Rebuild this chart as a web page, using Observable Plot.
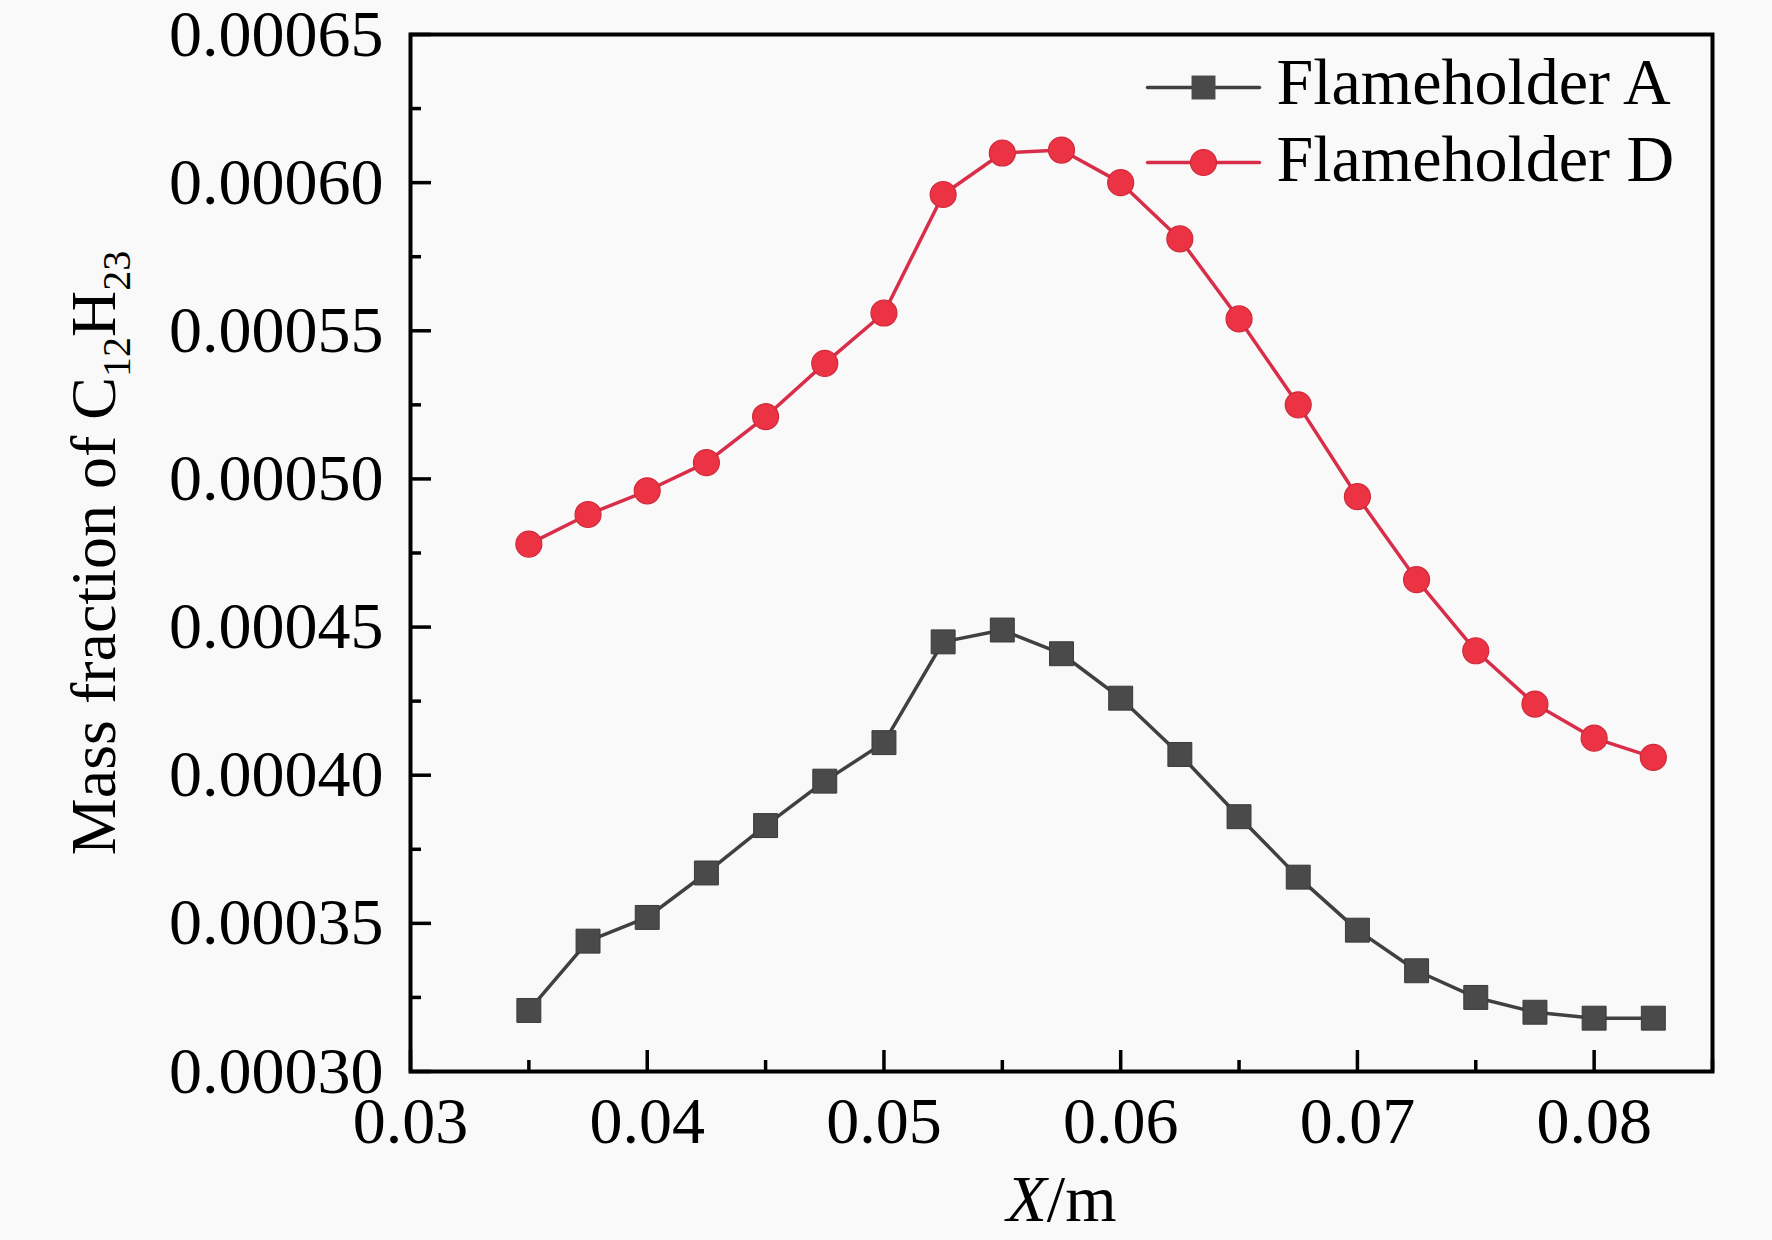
<!DOCTYPE html>
<html><head><meta charset="utf-8">
<script src="https://cdn.jsdelivr.net/npm/d3@7"></script>
<script src="https://cdn.jsdelivr.net/npm/@observablehq/plot@0.6"></script>
<style>
html,body{margin:0;padding:0;background:#f9f9f9;}
</style></head><body><div id="chart"></div>
<script>
const xPositions = [0.035, 0.0375, 0.04, 0.0425, 0.045, 0.0475, 0.05, 0.0525, 0.055, 0.0575, 0.06, 0.0625, 0.065, 0.0675, 0.07, 0.0725, 0.075, 0.0775, 0.08, 0.0825];
const flameholderA = [0.0003206, 0.000344, 0.000352, 0.000367, 0.000383, 0.000398, 0.000411, 0.000445, 0.000449, 0.000441, 0.000426, 0.000407, 0.000386, 0.0003656, 0.0003477, 0.000334, 0.000325, 0.000320, 0.000318, 0.000318];
const flameholderD = [0.000478, 0.000488, 0.000496, 0.0005055, 0.000521, 0.000539, 0.000556, 0.000596, 0.000610, 0.000611, 0.000600, 0.000581, 0.000554, 0.000525, 0.000494, 0.000466, 0.000442, 0.000424, 0.0004125, 0.000406];
const seriesNames = ["Flameholder A", "Flameholder D"];
const xTicks = [0.03, 0.04, 0.05, 0.06, 0.07, 0.08];
const xMinorTicks = [0.035, 0.045, 0.055, 0.065, 0.075, 0.085];
const yTicks = [0.0003, 0.00035, 0.0004, 0.00045, 0.0005, 0.00055, 0.0006, 0.00065];
const yMinorTicks = [0.000325, 0.000375, 0.000425, 0.000475, 0.000525, 0.000575, 0.000625];

const W = 1772, H = 1240, ML = 410, MR = 60, MT = 34, MB = 169;
const PW = W - ML - MR, PH = H - MT - MB;
const grayLine = "#404040", grayFill = "#4a4a4a";
const redLine = "#d92e4a", redFill = "#ec3344";
const svgns = "http://www.w3.org/2000/svg";

const dataA = xPositions.map((x, i) => ({x, v: flameholderA[i]}));
const dataD = xPositions.map((x, i) => ({x, v: flameholderD[i]}));

const legendLine = {draw(context, l) { context.moveTo(-l / 2, 0); context.lineTo(l / 2, 0); }};

function richText(parts, subSize, shift) {
  return function(index, scales, values, dimensions, context, next) {
    const g = next(index, scales, values, dimensions, context);
    const t = g.querySelector("text");
    t.textContent = "";
    let prevSub = false;
    for (const p of parts) {
      const ts = document.createElementNS(svgns, "tspan");
      ts.textContent = p.t;
      if (p.sub) {
        ts.setAttribute("font-size", subSize);
        if (!prevSub) ts.setAttribute("dy", shift);
      } else if (prevSub) {
        ts.setAttribute("dy", -shift);
      }
      if (p.italic) ts.setAttribute("font-style", "italic");
      t.appendChild(ts);
      prevSub = !!p.sub;
    }
    return g;
  };
}

const chart = Plot.plot({
  width: W, height: H,
  marginLeft: ML, marginRight: MR, marginTop: MT, marginBottom: MB,
  style: {fontFamily: "Liberation Serif", fontSize: "66px", background: "#f9f9f9", color: "black", overflow: "visible"},
  x: {domain: [0.03, 0.085]},
  y: {domain: [0.0003, 0.00065]},
  marks: [
    Plot.axisX({ticks: xTicks, tickSize: 0, tickPadding: 25, tickFormat: d3.format(".2f"), label: null}),
    Plot.axisY({ticks: yTicks, tickSize: 0, tickPadding: 27, tickFormat: d3.format(".5f"), label: null}),
    Plot.tickX(xTicks, {x: d => d, insetTop: PH - 21, stroke: "black", strokeWidth: 3.5}),
    Plot.tickX(xMinorTicks, {x: d => d, insetTop: PH - 11, stroke: "black", strokeWidth: 3.5}),
    Plot.tickY(yTicks, {y: d => d, insetRight: PW - 21, stroke: "black", strokeWidth: 3.5}),
    Plot.tickY(yMinorTicks, {y: d => d, insetRight: PW - 11, stroke: "black", strokeWidth: 3.5}),
    Plot.line(dataA, {x: "x", y: "v", stroke: grayLine, strokeWidth: 3.5}),
    Plot.line(dataD, {x: "x", y: "v", stroke: redLine, strokeWidth: 3.5}),
    Plot.dot(dataA, {x: "x", y: "v", symbol: "square", r: 13.5, fill: grayFill, stroke: "#3a3a3a", strokeWidth: 1}),
    Plot.dot(dataD, {x: "x", y: "v", symbol: "circle", r: 13, fill: redFill, stroke: "#cf2a3c", strokeWidth: 1.2}),
    Plot.frame({stroke: "black", strokeWidth: 4}),
    // legend
    Plot.vector([0], {frameAnchor: "top-right", dx: -509, dy: 53, length: 112, anchor: "start", shape: legendLine, stroke: grayLine, strokeWidth: 3.5}),
    Plot.vector([0], {frameAnchor: "top-right", dx: -509, dy: 128, length: 112, anchor: "start", shape: legendLine, stroke: redLine, strokeWidth: 3.5}),
    Plot.dot([0], {frameAnchor: "top-right", dx: -509, dy: 53, symbol: "square", r: 13.5, fill: grayFill}),
    Plot.dot([0], {frameAnchor: "top-right", dx: -509, dy: 128, symbol: "circle", r: 13, fill: redFill, stroke: "#cf2a3c", strokeWidth: 1.2}),
    Plot.text([seriesNames[0]], {frameAnchor: "top-right", dx: -436, dy: 48, text: d => d, textAnchor: "start", lineAnchor: "middle", fontSize: 66}),
    Plot.text([seriesNames[1]], {frameAnchor: "top-right", dx: -436, dy: 125, text: d => d, textAnchor: "start", lineAnchor: "middle", fontSize: 66}),
    // axis labels
    Plot.text(["Mass fraction of C12H23"], {frameAnchor: "left", dx: 94 - ML, rotate: -90, text: d => d, textAnchor: "middle", lineAnchor: "middle", fontSize: 64,
      render: richText([{t: "Mass fraction of C"}, {t: "12", sub: true}, {t: "H"}, {t: "23", sub: true}], 40, 15)}),
    Plot.text(["X/m"], {frameAnchor: "bottom", dy: 128, text: d => d, textAnchor: "middle", lineAnchor: "middle", fontSize: 66,
      render: richText([{t: "X", italic: true}, {t: "/m"}], 66, 0)})
  ]
});
document.getElementById("chart").appendChild(chart);
</script>
</body></html>
